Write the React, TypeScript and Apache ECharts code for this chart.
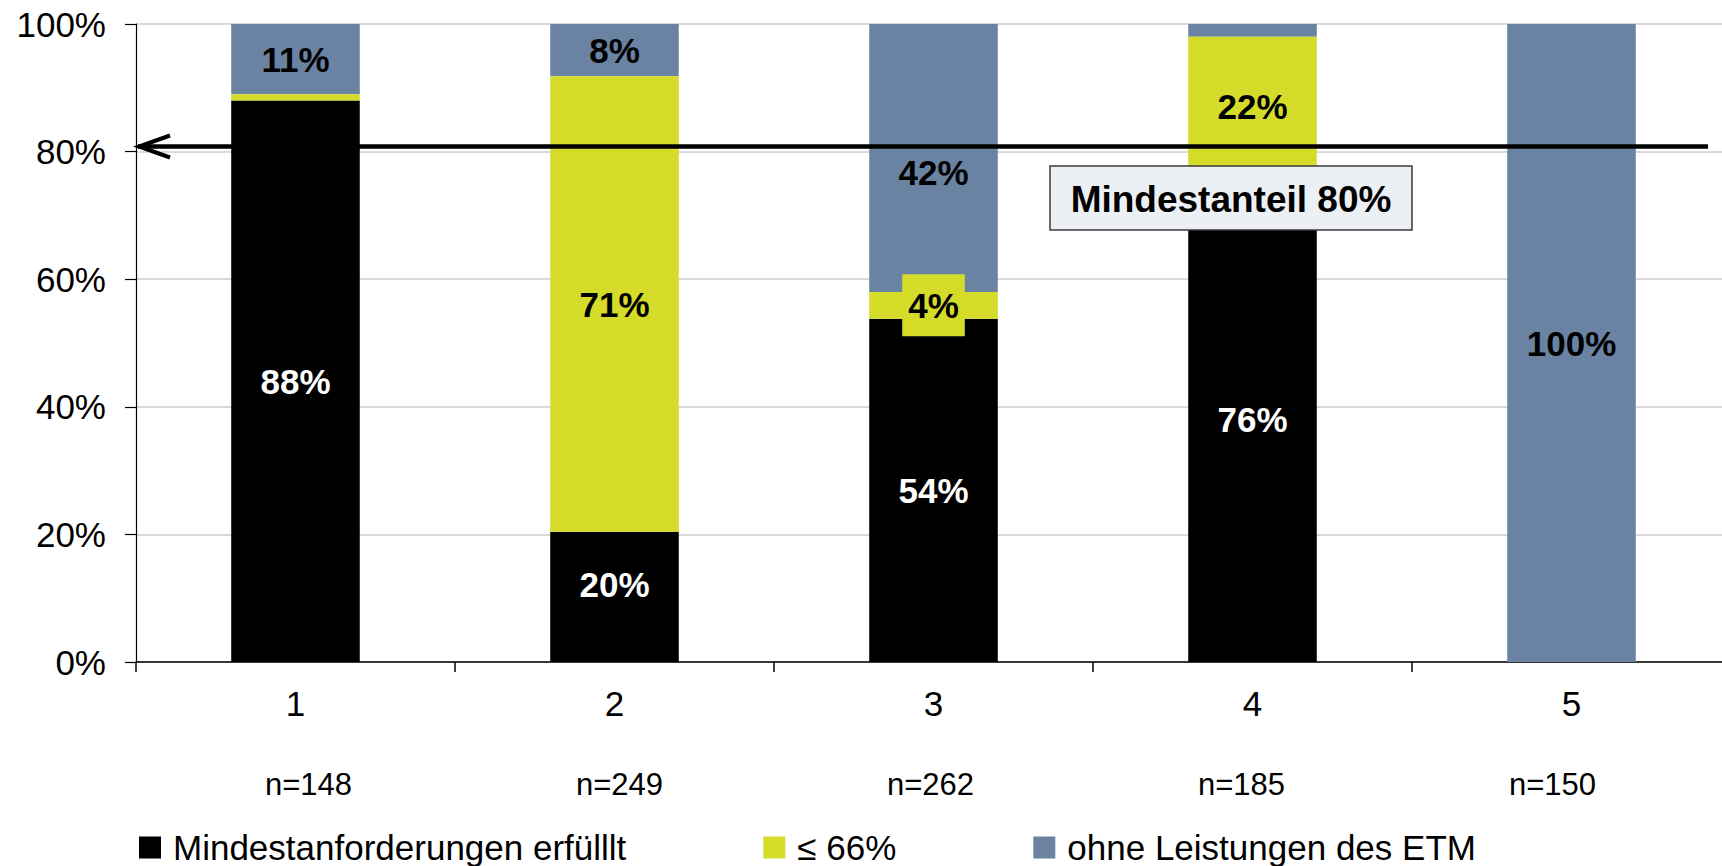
import React, { useEffect, useRef } from 'react';
import * as echarts from 'echarts';

const CATEGORIES = ['1', '2', '3', '4', '5'];
const SAMPLE_SIZES = ['n=148', 'n=249', 'n=262', 'n=185', 'n=150'];
const SERIES_NAMES = ['Mindestanforderungen erfülllt', '≤ 66%', 'ohne Leistungen des ETM'];
const MET = [88, 20.4, 53.8, 76, 0];
const PARTIAL = [1, 71.4, 4.2, 22, 0];
const NONE = [11, 8.2, 42, 2, 100];
const THRESHOLD = 80.8;
const THRESHOLD_LABEL = 'Mindestanteil 80%';

const FONT = '"Liberation Sans", Arial, Helvetica, sans-serif';
const COLORS = ['#000000', '#d4dc29', '#6a83a2'];
const GRID_LEFT = 136;
const MIN_LABEL = 4;
// small manual label nudges (series index - data index -> pixel offset)
const LABEL_NUDGE: Record<string, number[]> = { '0-1': [0, -12], '2-2': [0, 15] };

export default function App() {
  const ref = useRef<HTMLDivElement>(null);

  useEffect(() => {
    document.body.style.margin = '0';
    document.body.style.overflow = 'hidden';
    if (!ref.current) return;
    const chart = echarts.init(ref.current, undefined, { renderer: 'svg' });

    const toItems = (arr: number[], s: number) =>
      arr.map((v, i) => {
        const nudge = LABEL_NUDGE[s + '-' + i];
        return {
          value: v,
          label: { show: v >= MIN_LABEL, ...(nudge ? { offset: nudge } : {}) },
        };
      });

    const baseLabel = {
      show: true,
      position: 'inside',
      fontSize: 35,
      fontWeight: 'bold',
      fontFamily: FONT,
      formatter: (p: any) => Math.round(p.value) + '%',
    };

    const option: any = {
      animation: false,
      textStyle: { fontFamily: FONT },
      grid: [
        { left: GRID_LEFT, top: 24, width: 1595, height: 638 },
        { left: 153, top: 24, width: 1555, height: 638 },
      ],
      legend: {
        data: SERIES_NAMES,
        left: 139,
        top: 830,
        padding: 0,
        icon: 'rect',
        itemWidth: 22,
        itemHeight: 22,
        itemGap: 137,
        textStyle: { fontSize: 35, color: '#000', fontFamily: FONT, padding: [0, 0, 0, 7] },
      },
      xAxis: [
        {
          type: 'category',
          data: CATEGORIES,
          gridIndex: 0,
          axisLine: { lineStyle: { color: '#000', width: 1.5 } },
          axisTick: { show: true, length: 10, lineStyle: { color: '#000', width: 1.5 } },
          axisLabel: { fontSize: 35, color: '#000', fontFamily: FONT, margin: 24 },
        },
        {
          type: 'category',
          data: SAMPLE_SIZES,
          gridIndex: 1,
          axisLine: { show: false },
          axisTick: { show: false },
          splitLine: { show: false },
          axisLabel: { fontSize: 31, color: '#000', fontFamily: FONT, margin: 107 },
        },
      ],
      yAxis: [
        {
          type: 'value',
          gridIndex: 0,
          min: 0,
          max: 100,
          interval: 20,
          axisLine: { show: true, lineStyle: { color: '#000', width: 1.2 } },
          axisTick: { show: true, length: 11, lineStyle: { color: '#000', width: 1.2 } },
          axisLabel: { formatter: '{value}%', fontSize: 35, color: '#000', fontFamily: FONT, margin: 30 },
          splitLine: { lineStyle: { color: '#d9d9d9', width: 2 } },
        },
        { type: 'value', gridIndex: 1, min: 0, max: 100, show: false, splitLine: { show: false } },
      ],
      series: [
        {
          name: SERIES_NAMES[0],
          type: 'bar',
          stack: 'total',
          barWidth: '40.3%',
          itemStyle: { color: COLORS[0] },
          label: { ...baseLabel, color: '#fff' },
          data: toItems(MET, 0),
        },
        {
          name: SERIES_NAMES[1],
          type: 'bar',
          stack: 'total',
          barWidth: '40.3%',
          z: 3,
          itemStyle: { color: COLORS[1] },
          label: { ...baseLabel, color: '#000', backgroundColor: COLORS[1], padding: [13, 6], lineHeight: 36 },
          data: toItems(PARTIAL, 1),
        },
        {
          name: SERIES_NAMES[2],
          type: 'bar',
          stack: 'total',
          barWidth: '40.3%',
          itemStyle: { color: COLORS[2] },
          label: { ...baseLabel, color: '#000' },
          data: toItems(NONE, 2),
        },
      ],
    };
    chart.setOption(option);

    const y = chart.convertToPixel({ yAxisIndex: 0 }, THRESHOLD) as number;
    chart.setOption({
      graphic: [
        {
          type: 'line',
          z: 10,
          shape: { x1: GRID_LEFT + 2, y1: y, x2: 1708, y2: y },
          style: { stroke: '#000', lineWidth: 4.5 },
        },
        {
          type: 'polyline',
          z: 10,
          shape: { points: [[GRID_LEFT + 34, y - 11], [GRID_LEFT + 3, y], [GRID_LEFT + 34, y + 11]] },
          style: { stroke: '#000', lineWidth: 4, fill: null },
        },
        {
          type: 'rect',
          z: 10,
          shape: { x: 1050, y: 166, width: 362, height: 64 },
          style: { fill: '#eceff3', stroke: '#3a3a3a', lineWidth: 1.5 },
        },
        {
          type: 'text',
          z: 11,
          x: 1231,
          y: 199,
          style: {
            text: THRESHOLD_LABEL,
            fontSize: 37,
            fontWeight: 'bold',
            fontFamily: FONT,
            fill: '#000',
            align: 'center',
            verticalAlign: 'middle',
          },
        },
      ],
    });

    return () => chart.dispose();
  }, []);

  return <div ref={ref} style={{ width: '1745px', height: '866px' }} />;
}
